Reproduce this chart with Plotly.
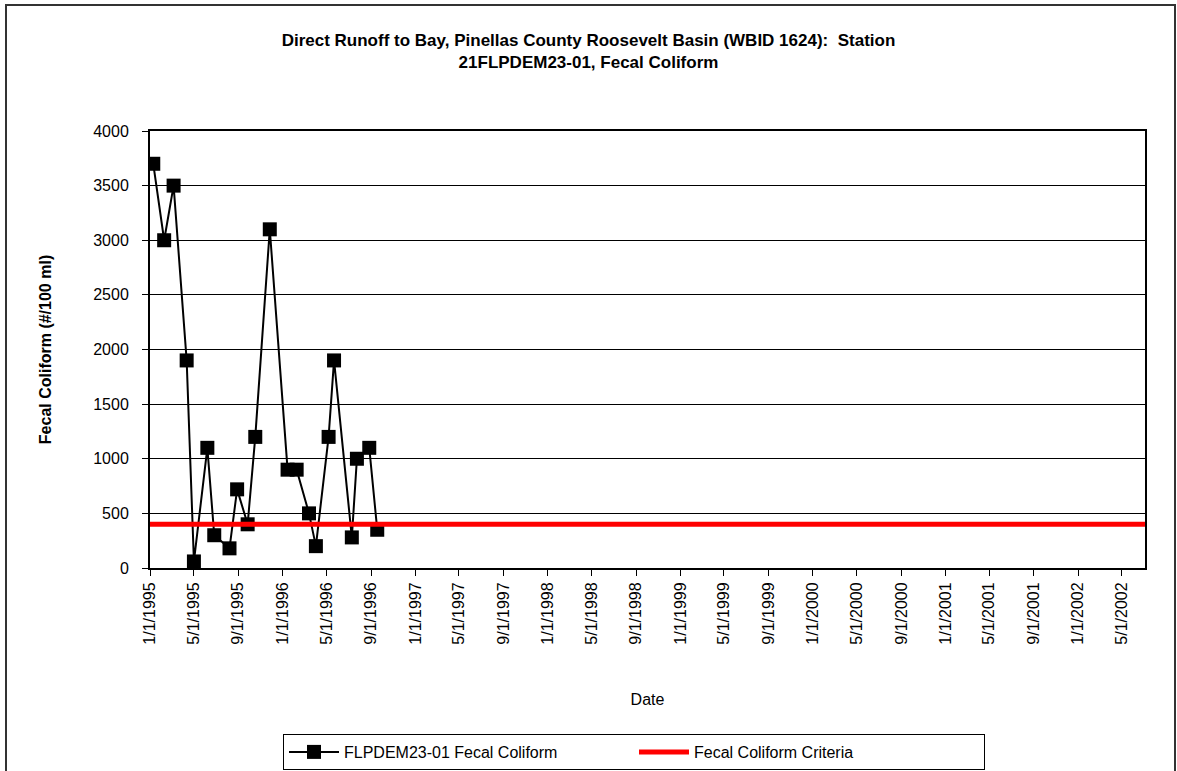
import pandas as pd
import plotly.graph_objects as go

# ---- data ----
sample_dates = [
    "1995-01-10", "1995-02-09", "1995-03-07", "1995-04-12", "1995-05-02",
    "1995-06-08", "1995-06-27", "1995-08-08", "1995-08-29", "1995-09-27",
    "1995-10-18", "1995-11-27", "1996-01-15", "1996-02-09", "1996-03-14",
    "1996-04-02", "1996-05-07", "1996-05-22", "1996-07-10", "1996-07-24",
    "1996-08-27", "1996-09-18",
]
fecal_coliform = [
    3700, 3000, 3500, 1900, 60,
    1100, 300, 180, 720, 400,
    1200, 3100, 900, 900, 500,
    200, 1200, 1900, 280, 1000,
    1100, 350,
]
criteria_dates = ["1995-01-01", "2002-07-04"]
criteria_values = [400, 400]

tick_labels = [
    "1/1/1995", "5/1/1995", "9/1/1995", "1/1/1996", "5/1/1996", "9/1/1996",
    "1/1/1997", "5/1/1997", "9/1/1997", "1/1/1998", "5/1/1998", "9/1/1998",
    "1/1/1999", "5/1/1999", "9/1/1999", "1/1/2000", "5/1/2000", "9/1/2000",
    "1/1/2001", "5/1/2001", "9/1/2001", "1/1/2002", "5/1/2002",
]
x_range = ["1995-01-01", "2002-07-04"]
y_ticks = [0, 500, 1000, 1500, 2000, 2500, 3000, 3500, 4000]

title_text = ("Direct Runoff to Bay, Pinellas County Roosevelt Basin (WBID 1624):  Station"
              "<br>21FLPDEM23-01, Fecal Coliform")

tick_vals = pd.to_datetime(tick_labels, format="%m/%d/%Y")

FONT = "Liberation Sans, Arial, sans-serif"

fig = go.Figure()
fig.add_trace(go.Scatter(
    x=pd.to_datetime(sample_dates), y=fecal_coliform,
    mode="lines+markers", name="FLPDEM23-01 Fecal Coliform",
    line=dict(color="black", width=2),
    marker=dict(symbol="square", size=14, color="black"),
))
fig.add_trace(go.Scatter(
    x=pd.to_datetime(criteria_dates), y=criteria_values,
    mode="lines", name="Fecal Coliform Criteria",
    line=dict(color="#ff0000", width=5),
))

W, H = 1177, 771
L, R, T, B = 150, 32, 131, 203
pw, ph = W - L - R, H - T - B

def px(x):
    return (x - L) / pw

def py(y):
    return (H - B - y) / ph

fig.update_layout(
    width=W, height=H,
    margin=dict(l=L, r=R, t=T, b=B, autoexpand=False),
    paper_bgcolor="white", plot_bgcolor="white",
    font=dict(family=FONT, size=16, color="black"),
    title=dict(text=title_text, x=0.5, xref="container", xanchor="center",
               y=1 - 46 / H, yref="container", yanchor="top",
               font=dict(family=FONT, size=17, color="black", weight="bold")),
    showlegend=True,
    legend=dict(orientation="h", x=px(283), y=py(734), xanchor="left", yanchor="top",
                bordercolor="black", borderwidth=1, bgcolor="white",
                font=dict(family=FONT, size=16), itemwidth=50,
                entrywidth=285, entrywidthmode="pixels",
                tracegroupgap=0),
    xaxis=dict(
        range=x_range, tickmode="array", tickvals=tick_vals, ticktext=tick_labels,
        tickangle=-90, ticks="outside", ticklen=6, tickcolor="black", tickwidth=1,
        showline=True, linecolor="black", linewidth=2, mirror=True,
        showgrid=False, zeroline=False,
        tickfont=dict(family=FONT, size=16),
        title=dict(text="Date", font=dict(family=FONT, size=16), standoff=50),
        automargin=False,
    ),
    yaxis=dict(
        range=[0, 4000], tickmode="array", tickvals=y_ticks,
        ticks="outside", ticklen=6, tickcolor="black", tickwidth=1,
        ticklabelstandoff=10,
        showline=True, linecolor="black", linewidth=2, mirror=True,
        showgrid=True, gridcolor="black", gridwidth=1, zeroline=False,
        tickfont=dict(family=FONT, size=16),
        title=dict(text="Fecal Coliform (#/100 ml)",
                   font=dict(family=FONT, size=16, weight="bold"), standoff=38),
        automargin=False,
    ),
    shapes=[
        dict(type="rect", xref="paper", yref="paper",
             x0=px(6), x1=px(1175), y0=py(780), y1=py(5),
             line=dict(color="#333333", width=2), fillcolor="rgba(0,0,0,0)",
             layer="below"),
    ],
)

fig.write_html("out.html", config={"displayModeBar": False},
               post_script="document.body.style.margin='0';")
